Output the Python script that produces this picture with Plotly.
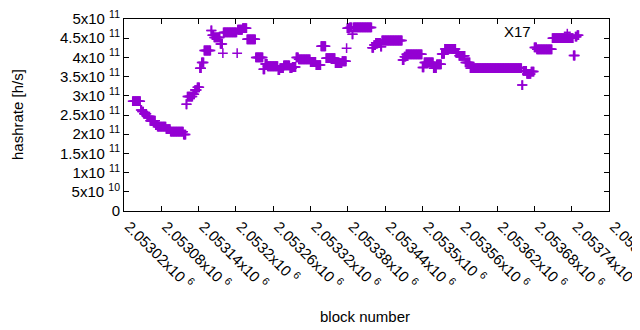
import plotly.graph_objects as go

# ---- data (runs of constant estimated hashrate, values in 1e9 h/s) ----
run_first = [2053034, 2053047, 2053049, 2053052, 2053057, 2053062, 2053071, 2053074, 2053088, 2053095,
             2053116, 2053120, 2053122, 2053131, 2053134, 2053138, 2053142, 2053145, 2053149, 2053160,
             2053162, 2053165, 2053175, 2053179, 2053180, 2053202, 2053203, 2053211, 2053218, 2053232,
             2053244, 2053247, 2053251, 2053268, 2053271, 2053277, 2053287, 2053291, 2053297, 2053301,
             2053320, 2053329, 2053337, 2053345, 2053360, 2053371, 2053378, 2053379, 2053383, 2053387,
             2053389, 2053419, 2053422, 2053425, 2053433, 2053435, 2053468, 2053471, 2053474, 2053500,
             2053503, 2053518, 2053523, 2053531, 2053536, 2053554, 2053559, 2053569, 2053577, 2053660,
             2053662, 2053668, 2053675, 2053680, 2053684, 2053709, 2053743, 2053746, 2053749]
run_last = [2053046, 2053048, 2053051, 2053056, 2053061, 2053070, 2053073, 2053087, 2053094, 2053115,
            2053119, 2053121, 2053130, 2053133, 2053137, 2053141, 2053144, 2053148, 2053159, 2053161,
            2053164, 2053174, 2053178, 2053179, 2053201, 2053202, 2053210, 2053217, 2053231, 2053243,
            2053246, 2053250, 2053267, 2053270, 2053276, 2053286, 2053290, 2053296, 2053300, 2053319,
            2053328, 2053336, 2053344, 2053359, 2053370, 2053377, 2053378, 2053382, 2053386, 2053388,
            2053418, 2053421, 2053424, 2053432, 2053434, 2053467, 2053470, 2053473, 2053499, 2053502,
            2053517, 2053522, 2053530, 2053535, 2053553, 2053558, 2053568, 2053576, 2053659, 2053661,
            2053667, 2053674, 2053679, 2053683, 2053708, 2053742, 2053745, 2053748, 2053751]
run_hashrate_g = [286, 263, 259, 253, 246, 235, 224, 219.5, 213, 206.5,
                  199, 278, 298, 304, 315, 322, 372, 387, 418, 470,
                  458, 452, 435, 411, 465, 411, 472, 476, 447, 400,
                  369, 383, 377, 367, 372, 379, 372, 375, 400, 395,
                  388, 380, 429, 398, 385, 390, 424, 476, 478, 460,
                  478, 425, 432, 438, 428, 444, 393, 402, 408, 374,
                  387, 372, 382, 409, 422, 412, 404, 387, 372, 328,
                  365, 357, 363, 426, 421, 450, 405, 454, 458]

x_tick_vals = [2053020, 2053080, 2053140, 2053200, 2053260, 2053320, 2053380,
               2053440, 2053500, 2053560, 2053620, 2053680, 2053740, 2053800]
x_tick_mant = ["2.05302", "2.05308", "2.05314", "2.0532", "2.05326", "2.05332", "2.05338",
               "2.05344", "2.0535", "2.05356", "2.05362", "2.05368", "2.05374", "2.0538"]
y_tick_vals = [0, 5e10, 1e11, 1.5e11, 2e11, 2.5e11, 3e11, 3.5e11, 4e11, 4.5e11, 5e11]
y_tick_mant = ["0", "5", "1", "1.5", "2", "2.5", "3", "3.5", "4", "4.5", "5"]
y_tick_exp = ["", "10", "11", "11", "11", "11", "11", "11", "11", "11", "11"]
series_name = "X17"

# expand runs into one point per block
blocks, rates = [], []
for f, l, v in zip(run_first, run_last, run_hashrate_g):
    for b in range(f, l + 1):
        blocks.append(b)
        rates.append(v * 1e9)

COLOR = "#9400D3"
FONT = "Liberation Sans, Arial, sans-serif"
FS = 15

# page body has an 8px margin; lay out in page coordinates
OFF = 8
W, H = 640 - OFF, 330 - OFF
PL, PR, PT, PB = 124, 609, 19, 211          # plot box in page pixels
L, R, T, B = PL - OFF, W - (PR - OFF), PT - OFF, H - (PB - OFF)
pw, ph = PR - PL, PB - PT


def px(xp):
    return (xp - PL) / pw


def py(yp):
    return (PB - yp) / ph


y_text = [m if not e else f"{m}x10 <sup>{e}</sup>" for m, e in zip(y_tick_mant, y_tick_exp)]
x_text = [m + "x10 <sup>6</sup>" for m in x_tick_mant]

fig = go.Figure()
fig.add_trace(go.Scatter(
    x=blocks, y=rates, mode="markers", name=series_name, showlegend=False,
    marker=dict(symbol="cross-thin", size=7, line=dict(color=COLOR, width=1.5), color=COLOR),
    hoverinfo="skip",
))

fig.update_layout(
    width=W, height=H,
    margin=dict(l=L, r=R, t=T, b=B, pad=0),
    paper_bgcolor="white", plot_bgcolor="white",
    font=dict(family=FONT, size=FS, color="black"),
    showlegend=False,
)
fig.update_xaxes(
    range=[x_tick_vals[0], x_tick_vals[-1]],
    tickmode="array", tickvals=x_tick_vals, ticktext=x_text,
    tickangle=45, ticks="inside", ticklen=5, tickwidth=1, tickcolor="black",
    showline=True, linecolor="black", linewidth=1, mirror="ticks",
    showgrid=False, zeroline=False, automargin=False, ticklabeloverflow="allow",
    ticklabelshift=5,
    tickfont=dict(family=FONT, size=FS, color="black"),
)
fig.update_yaxes(
    range=[0, 5e11],
    tickmode="array", tickvals=y_tick_vals, ticktext=y_text,
    ticks="inside", ticklen=5, tickwidth=1, tickcolor="black",
    showline=True, linecolor="black", linewidth=1, mirror="ticks",
    showgrid=False, zeroline=False, automargin=False, ticklabeloverflow="allow",
    tickfont=dict(family=FONT, size=FS, color="black"),
)

fig.add_annotation(text="hashrate [h/s]", xref="paper", yref="paper",
                   x=px(17), y=py(115), textangle=-90, showarrow=False,
                   xanchor="center", yanchor="middle", font=dict(family=FONT, size=FS))
fig.add_annotation(text="block number", xref="paper", yref="paper",
                   x=px(365), y=py(316), showarrow=False,
                   xanchor="center", yanchor="middle", font=dict(family=FONT, size=FS))
# key
fig.add_annotation(text=series_name, xref="paper", yref="paper",
                   x=px(533), y=py(31.5), showarrow=False,
                   xanchor="right", yanchor="middle", font=dict(family=FONT, size=FS))
kx, ky = px(567.3), py(32.3)
ax_, ay_ = 3.5 / pw, 3.5 / ph
fig.add_shape(type="line", xref="paper", yref="paper", x0=kx - ax_, x1=kx + ax_, y0=ky, y1=ky,
              line=dict(color=COLOR, width=1.5))
fig.add_shape(type="line", xref="paper", yref="paper", x0=kx, x1=kx, y0=ky - ay_, y1=ky + ay_,
              line=dict(color=COLOR, width=1.5))

fig.write_html("out.html")
